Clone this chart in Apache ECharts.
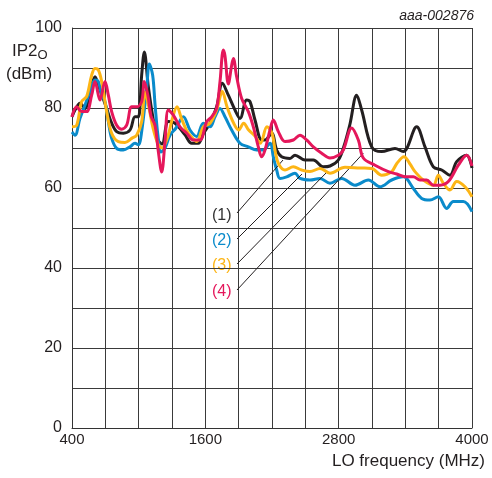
<!DOCTYPE html>
<html><head><meta charset="utf-8">
<script src="https://cdn.jsdelivr.net/npm/echarts@6/dist/echarts.min.js"></script>
<style>html,body{margin:0;padding:0;background:#fff}#c{width:492px;height:478px}</style>
</head><body><div id="c"></div><script>
// tick labels
const xTickLabels = [400, 1600, 2800, 4000];
const yTickLabels = [0, 20, 40, 60, 80, 100];
const seriesNames = ['(1)', '(2)', '(3)', '(4)'];

// (1) black
const freq1 = [400,427,472,517,562,607,637,712,757,802,862,922,967,997,1027,1051,1087,1132,1174,1210,1267,1327,1417,1477,1537,1580,1642,1702,1753,1807,1867,1912,1972,2002,2047,2107,2137,2197,2242,2287,2362,2407,2497,2572,2662,2722,2797,2848,2902,2962,3007,3097,3187,3307,3382,3415,3502,3577,3652,3727,3802,3862,3952,4000];
const ip2_1 = [77.8,79.5,81.2,79.9,84.1,87.8,85.7,79.9,76.2,74.1,73.7,74.5,77.8,77.8,88.2,94,85.3,77,72,71,76.6,76.2,73.3,71.2,71.2,73.5,76.2,80.3,86.2,83.2,79.5,77.4,82,81.6,77,72,72,73.7,69.5,67.8,67.4,68.2,67,67,65.3,65.5,67,70.5,76,83.2,79.5,70.3,69.1,69.9,69.1,70,75.3,70.3,65.3,64.5,63.2,66.6,68.2,65];

// (2) blue
const freq2 = [400,427,472,517,562,607,637,667,697,727,757,802,862,922,967,997,1027,1072,1096,1126,1147,1174,1201,1237,1282,1336,1402,1462,1522,1582,1642,1687,1732,1777,1837,1912,1987,2062,2122,2182,2212,2242,2272,2332,2407,2452,2542,2632,2722,2827,2947,3067,3172,3277,3382,3412,3472,3547,3622,3697,3772,3832,3922,4000];
const ip2_2 = [74,73.2,77.4,80.7,84.1,87,86.6,83.2,81.6,76.6,72.4,69.9,69.5,70.3,71.2,70.8,74.1,84.9,91,88.2,81,73,69,70,73.2,75,77.8,74.5,72.9,76.2,75.3,77.8,79.9,77.8,74.5,71.2,70.3,69.5,69.5,71.2,67.8,64.5,62.4,62.8,63.7,62.4,62,62.4,61.2,62.4,60.7,62,60.3,62,62.8,62.4,59.9,57.4,57,57.8,54.9,56.6,56.6,54.1];

// (3) orange
const freq3 = [400,442,487,532,577,607,637,667,712,757,817,877,937,982,1027,1057,1093,1129,1174,1210,1264,1300,1345,1384,1429,1462,1522,1582,1642,1702,1753,1795,1855,1900,1945,1990,2050,2095,2155,2200,2230,2260,2317,2392,2467,2542,2632,2722,2857,2992,3097,3187,3277,3325,3388,3442,3487,3562,3652,3697,3742,3802,3862,3937,4000];
const ip2_3 = [75.3,75.7,81.6,82.9,88.2,89.9,89.5,86.6,79.1,73.7,71.6,71.4,72.4,73.2,76.6,84,80,75,71,70,73,77,80.3,77.5,74.5,73.2,71.6,75.3,76.2,79.5,84.1,80.3,76.2,74.5,76.2,74.5,72.9,71.2,75.3,73.7,69,66,64.5,65.3,64.5,64.1,64.9,63.7,65.2,65,64.9,63.2,64.1,66.2,67.8,66,64.1,62,60.7,63.2,61.2,59.5,61.6,60.3,57.8];

// (4) red
const freq4 = [400,442,487,532,577,607,652,697,727,757,802,847,892,937,982,1027,1051,1084,1111,1147,1177,1207,1237,1267,1312,1372,1432,1492,1552,1612,1657,1702,1732,1762,1777,1807,1837,1852,1882,1927,1987,2032,2077,2107,2137,2182,2212,2257,2317,2392,2452,2512,2572,2647,2722,2797,2842,2917,2977,3022,3127,3247,3322,3397,3472,3532,3592,3652,3712,3787,3877,3952,4000];
const ip2_4 = [77.8,80.3,79.1,79.1,83.2,86.6,82,86.6,83.2,79.1,75.7,74.7,75.7,80.3,80.3,81.6,86.6,83,78,75.7,69.1,64,71.6,79.5,78.2,75.3,73.7,72,72,76.6,77.8,80,86.6,94.5,93,86,90.7,92.4,87.8,82.4,79.1,75.3,70.3,67.8,69.5,74.5,77,74.1,71.6,72,73.2,72,70.3,68.7,67.5,68.2,69.5,75,72,67.5,65.7,64.1,63.5,62.8,62.8,62,62,60.7,60.7,61.6,65.7,68.2,65.5];

// leader lines: [labelStart, curveEnd] in data units
const leaderStart = [[1885,53.75],[1885,47.25],[1885,41],[1885,34.5]];
const leaderEnd = [[2299,67],[2470,63.5],[2695,64],[3022,68.7]];

const colors = ['#231f20', '#0a8bcb', '#fdb515', '#e5175b'];
const freqs = [freq1, freq2, freq3, freq4];
const vals = [ip2_1, ip2_2, ip2_3, ip2_4];

const FONT = 'Liberation Sans, Arial, sans-serif';
const chart = echarts.init(document.getElementById('c'), null, {renderer: 'canvas'});

const series = vals.map((v, i) => ({
  name: seriesNames[i],
  type: 'line',
  smooth: 0.35,
  symbol: 'none',
  z: 3 + i,
  lineStyle: {color: colors[i], width: 3},
  data: v.map((y, k) => [freqs[i][k], y]),
  markLine: {
    silent: true, symbol: 'none', animation: false,
    lineStyle: {color: '#231f20', width: 1, type: 'solid'},
    label: {show: false},
    data: [[{coord: leaderStart[i]}, {coord: leaderEnd[i]}]]
  }
}));

chart.setOption({
  animation: false,
  backgroundColor: '#fff',
  grid: {left: 72, top: 28, width: 400, height: 400},
  xAxis: {
    type: 'value', min: 400, max: 4000, interval: 300,
    axisLine: {show: true, lineStyle: {color: '#333', width: 1}},
    axisTick: {show: false},
    splitLine: {show: true, lineStyle: {color: '#3a3a3a', width: 1}},
    axisLabel: {
      margin: 4, color: '#231f20', fontSize: 15, fontFamily: FONT,
      showMinLabel: true, showMaxLabel: true,
      formatter: v => xTickLabels.includes(v) ? String(v) : ''
    }
  },
  yAxis: {
    type: 'value', min: 0, max: 100, interval: 10,
    axisLine: {show: true, lineStyle: {color: '#333', width: 1}},
    axisTick: {show: false},
    splitLine: {show: true, lineStyle: {color: '#3a3a3a', width: 1}},
    axisLabel: {
      margin: 10, color: '#231f20', fontSize: 16, fontFamily: FONT,
      formatter: v => yTickLabels.includes(v) ? String(v) : ''
    }
  },
  graphic: [
    {type: 'text', left: 12, top: 43, style: {
      text: '{a|IP2}{b|O}', fontFamily: FONT,
      rich: {a: {fontSize: 17, fontFamily: FONT, fill: '#231f20', verticalAlign: 'top'},
             b: {fontSize: 13, fontFamily: FONT, fill: '#231f20', padding: [6, 0, 0, 0]}}
    }},
    {type: 'text', left: 6, top: 66, style: {text: '(dBm)', fontSize: 17, fontFamily: FONT, fill: '#231f20'}},
    {type: 'text', right: 18, top: 9, style: {text: 'aaa-002876', fontSize: 14, fontStyle: 'italic', fontFamily: FONT, fill: '#231f20'}},
    {type: 'text', right: 7, top: 453, style: {text: 'LO frequency (MHz)', fontSize: 17, fontFamily: FONT, fill: '#231f20'}},
    {type: 'text', left: 212, top: 208, style: {text: seriesNames[0], fontSize: 16, fontFamily: FONT, fill: '#333'}},
    {type: 'text', left: 212, top: 233, style: {text: seriesNames[1], fontSize: 16, fontFamily: FONT, fill: colors[1]}},
    {type: 'text', left: 212, top: 258, style: {text: seriesNames[2], fontSize: 16, fontFamily: FONT, fill: colors[2]}},
    {type: 'text', left: 212, top: 284, style: {text: seriesNames[3], fontSize: 16, fontFamily: FONT, fill: colors[3]}}
  ],
  series: series
});
</script></body></html>
